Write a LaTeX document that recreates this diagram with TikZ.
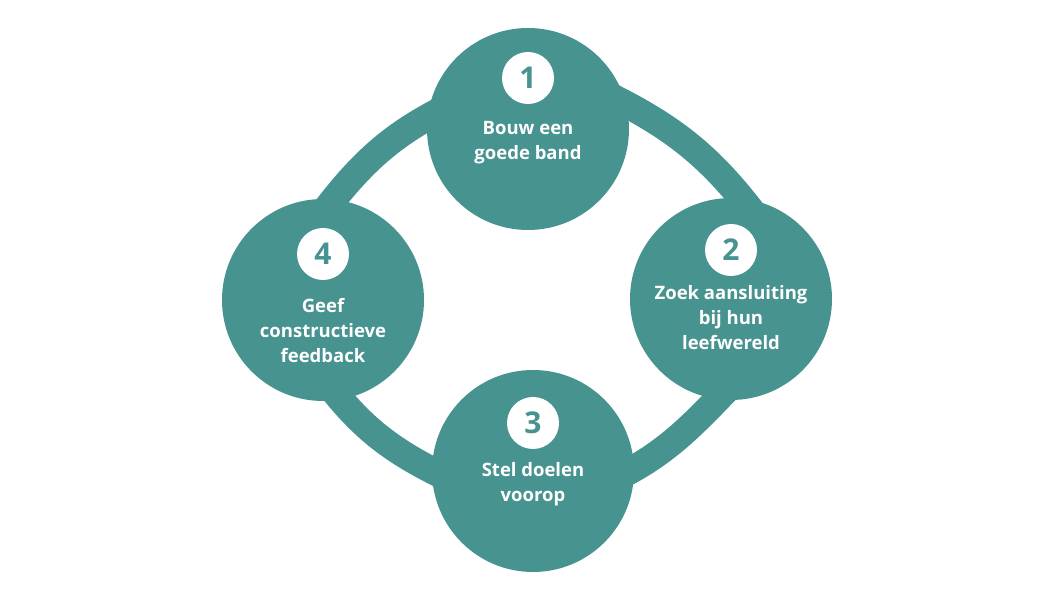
\documentclass[tikz,border=0pt]{standalone}
\usepackage{fontspec}
\setmainfont{Open Sans}
\usepackage{xcolor}
\usetikzlibrary{positioning, backgrounds}

\definecolor{ring}{RGB}{70,147,144}

\begin{document}
\begin{tikzpicture}[
    x=1pt, y=1pt,
    stage/.style={circle, fill=ring, minimum size=202pt, inner sep=0pt},
    num/.style={circle, fill=white, text=ring, minimum size=52pt,
                inner sep=0pt, font=\fontsize{30}{30}\selectfont\bfseries},
    txt/.style={text=white, align=center, inner sep=0pt,
                font=\fontsize{18.5}{25}\selectfont\bfseries},
    band/.style={draw=ring, line width=27pt}
  ]

  \useasboundingbox (0,0) rectangle (1050,600);

  \node[stage] (s1) at (528,471) {};
  \node[stage] (s2) at (731,301) {};
  \node[stage] (s3) at (533,129) {};
  \node[stage] (s4) at (323,300) {};

  % the ring, one arc from step to step, behind the circles
  \begin{scope}[on background layer]
  \foreach \a/\pa/\b/\pb/\o/\i in {s1/{76,36}/s2/{26,81}/-26/127,
                                   s2/{6,-80}/s3/{75,-11}/-134/25,
                                   s4/{3,-81}/s3/{-75,-12}/-53/155,
                                   s4/{-3,83}/s1/{-75,25}/53/206}
    \draw[band] ([shift={(\pa)}]\a.center) to[out=\o, in=\i]
                ([shift={(\pb)}]\b.center);
  \end{scope}

  \foreach \s/\d in {1/51, 2/49, 3/48, 4/46}
    \node[num] (n\s) at ([yshift=\d pt]s\s.center) {\s};

  \node[txt, below=16.5pt of n1] (t1) {Bouw een\\goede band};
  \node[txt, below=9.5pt of n2]  (t2) {Zoek aansluiting\\bij hun\\leefwereld};
  \node[txt, below=13.5pt of n3] (t3) {Stel doelen\\voorop};
  \node[txt, below=17.5pt of n4] (t4) {Geef\\constructieve\\feedback};

\end{tikzpicture}
\end{document}
